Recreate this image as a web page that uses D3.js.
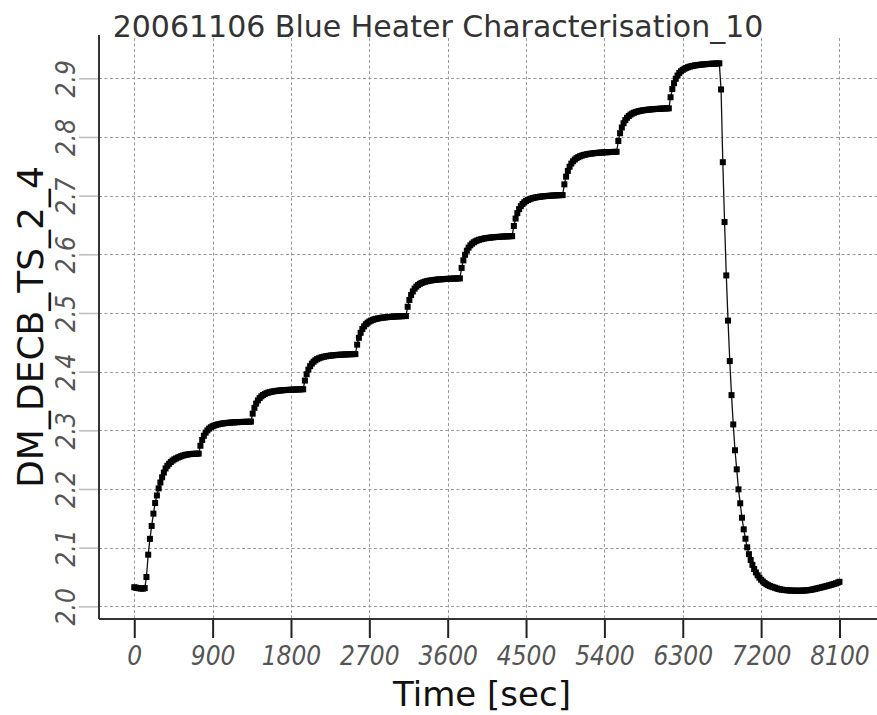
<!DOCTYPE html>
<html>
<head>
<meta charset="utf-8">
<script src="https://cdn.jsdelivr.net/npm/d3@7"></script>
<style>
  html, body { margin: 0; padding: 0; background: #fff; }
  svg { display: block; }
  .tick-label { font-family: "DejaVu Sans Condensed", "DejaVu Sans", sans-serif; font-stretch: condensed; font-style: italic; font-size: 26px; fill: #555; }
</style>
</head>
<body>
<div id="chart"></div>
<script>
const chartTitle = "20061106 Blue Heater Characterisation_10";
const xLabel = "Time [sec]";
const yLabel = "DM_DECB_TS_2_4";
const xTicks = [0, 900, 1800, 2700, 3600, 4500, 5400, 6300, 7200, 8100];
const yTicks = [2.0, 2.1, 2.2, 2.3, 2.4, 2.5, 2.6, 2.7, 2.8, 2.9];

// [time in s, sensor value]
const heaterSeries = [
  [0,2.0325],[20,2.0318],[40,2.0312],[60,2.0307],[80,2.0303],[100,2.0302],[120,2.0310],[140,2.0500],[160,2.0880],[180,2.1150],
  [200,2.1370],[220,2.1580],[240,2.1760],[260,2.1890],[280,2.2010],[300,2.2110],[320,2.2200],[340,2.2280],[360,2.2350],[380,2.2395],
  [400,2.2430],[420,2.2460],[440,2.2485],[460,2.2505],[480,2.2520],[500,2.2535],[520,2.2548],[540,2.2560],[560,2.2570],[580,2.2578],
  [600,2.2585],[620,2.2590],[640,2.2594],[660,2.2597],[680,2.2600],[700,2.2600],[720,2.2602],[740,2.2603],[760,2.2737],[780,2.2835],
  [800,2.2907],[820,2.2960],[840,2.2999],[860,2.3029],[880,2.3052],[900,2.3069],[920,2.3082],[940,2.3092],[960,2.3101],[980,2.3107],
  [1000,2.3113],[1020,2.3118],[1040,2.3122],[1060,2.3125],[1080,2.3128],[1100,2.3131],[1120,2.3133],[1140,2.3135],[1160,2.3137],[1180,2.3139],
  [1200,2.3140],[1220,2.3142],[1240,2.3143],[1260,2.3144],[1280,2.3145],[1300,2.3146],[1320,2.3147],[1340,2.3148],[1360,2.3284],[1380,2.3383],
  [1400,2.3456],[1420,2.3510],[1440,2.3550],[1460,2.3580],[1480,2.3602],[1500,2.3619],[1520,2.3633],[1540,2.3643],[1560,2.3652],[1580,2.3659],
  [1600,2.3664],[1620,2.3669],[1640,2.3673],[1660,2.3677],[1680,2.3680],[1700,2.3682],[1720,2.3685],[1740,2.3687],[1760,2.3689],[1780,2.3690],
  [1800,2.3692],[1820,2.3693],[1840,2.3695],[1860,2.3696],[1880,2.3697],[1900,2.3698],[1920,2.3699],[1940,2.3700],[1960,2.3848],[1980,2.3956],
  [2000,2.4035],[2020,2.4093],[2040,2.4137],[2060,2.4169],[2080,2.4194],[2100,2.4213],[2120,2.4227],[2140,2.4239],[2160,2.4248],[2180,2.4255],
  [2200,2.4261],[2220,2.4267],[2240,2.4271],[2260,2.4275],[2280,2.4278],[2300,2.4281],[2320,2.4283],[2340,2.4286],[2360,2.4288],[2380,2.4290],
  [2400,2.4291],[2420,2.4293],[2440,2.4294],[2460,2.4296],[2480,2.4297],[2500,2.4298],[2520,2.4299],[2540,2.4300],[2560,2.4460],[2580,2.4577],
  [2600,2.4662],[2620,2.4726],[2640,2.4772],[2660,2.4808],[2680,2.4834],[2700,2.4855],[2720,2.4870],[2740,2.4883],[2760,2.4893],[2780,2.4901],
  [2800,2.4907],[2820,2.4913],[2840,2.4918],[2860,2.4922],[2880,2.4925],[2900,2.4928],[2920,2.4931],[2940,2.4934],[2960,2.4936],[2980,2.4938],
  [3000,2.4940],[3020,2.4942],[3040,2.4943],[3060,2.4944],[3080,2.4946],[3100,2.4947],[3120,2.4948],[3140,2.5106],[3160,2.5222],[3180,2.5306],
  [3200,2.5368],[3220,2.5415],[3240,2.5450],[3260,2.5476],[3280,2.5496],[3300,2.5511],[3320,2.5524],[3340,2.5533],[3360,2.5541],[3380,2.5548],
  [3400,2.5553],[3420,2.5558],[3440,2.5562],[3460,2.5566],[3480,2.5569],[3500,2.5572],[3520,2.5574],[3540,2.5576],[3560,2.5578],[3580,2.5580],
  [3600,2.5582],[3620,2.5583],[3640,2.5585],[3660,2.5586],[3680,2.5587],[3700,2.5588],[3720,2.5589],[3740,2.5590],[3760,2.5768],[3780,2.5897],
  [3800,2.5992],[3820,2.6062],[3840,2.6114],[3860,2.6153],[3880,2.6182],[3900,2.6205],[3920,2.6222],[3940,2.6236],[3960,2.6247],[3980,2.6256],
  [4000,2.6263],[4020,2.6270],[4040,2.6275],[4060,2.6279],[4080,2.6283],[4100,2.6287],[4120,2.6290],[4140,2.6293],[4160,2.6295],[4180,2.6297],
  [4200,2.6299],[4220,2.6301],[4240,2.6303],[4260,2.6305],[4280,2.6306],[4300,2.6307],[4320,2.6309],[4340,2.6310],[4360,2.6483],[4380,2.6609],
  [4400,2.6702],[4420,2.6770],[4440,2.6820],[4460,2.6858],[4480,2.6887],[4500,2.6909],[4520,2.6926],[4540,2.6939],[4560,2.6950],[4580,2.6959],
  [4600,2.6966],[4620,2.6972],[4640,2.6977],[4660,2.6982],[4680,2.6985],[4700,2.6989],[4720,2.6992],[4740,2.6994],[4760,2.6997],[4780,2.6999],
  [4800,2.7001],[4820,2.7003],[4840,2.7005],[4860,2.7006],[4880,2.7008],[4900,2.7009],[4920,2.7010],[4940,2.7192],[4960,2.7324],[4980,2.7421],
  [5000,2.7493],[5020,2.7546],[5040,2.7586],[5060,2.7616],[5080,2.7639],[5100,2.7657],[5120,2.7671],[5140,2.7682],[5160,2.7692],[5180,2.7699],
  [5200,2.7705],[5220,2.7711],[5240,2.7715],[5260,2.7719],[5280,2.7723],[5300,2.7726],[5320,2.7729],[5340,2.7732],[5360,2.7734],[5380,2.7736],
  [5400,2.7738],[5420,2.7740],[5440,2.7741],[5460,2.7743],[5480,2.7744],[5500,2.7745],[5520,2.7746],[5540,2.7748],[5560,2.7931],[5580,2.8064],
  [5600,2.8161],[5620,2.8234],[5640,2.8287],[5660,2.8327],[5680,2.8357],[5700,2.8381],[5720,2.8399],[5740,2.8413],[5760,2.8424],[5780,2.8433],
  [5800,2.8441],[5820,2.8447],[5840,2.8453],[5860,2.8457],[5880,2.8461],[5900,2.8465],[5920,2.8468],[5940,2.8471],[5960,2.8473],[5980,2.8476],
  [6000,2.8478],[6020,2.8480],[6040,2.8482],[6060,2.8483],[6080,2.8485],[6100,2.8486],[6120,2.8487],[6140,2.8488],[6160,2.8677],[6180,2.8816],
  [6200,2.8917],[6220,2.8992],[6240,2.9047],[6260,2.9089],[6280,2.9120],[6300,2.9144],[6320,2.9163],[6340,2.9177],[6360,2.9189],[6380,2.9199],
  [6400,2.9207],[6420,2.9213],[6440,2.9219],[6460,2.9224],[6480,2.9228],[6500,2.9231],[6520,2.9235],[6540,2.9238],[6560,2.9240],[6580,2.9243],
  [6600,2.9245],[6620,2.9247],[6640,2.9249],[6660,2.9250],[6680,2.9252],[6700,2.9253],[6720,2.9255],[6740,2.8810],[6760,2.7570],[6780,2.6550],
  [6800,2.5640],[6820,2.4870],[6840,2.4180],[6860,2.3600],[6880,2.3100],[6900,2.2660],[6920,2.2335],[6940,2.1994],[6960,2.1756],[6980,2.1510],
  [7000,2.1312],[7020,2.1152],[7040,2.1006],[7060,2.0889],[7080,2.0790],[7100,2.0707],[7120,2.0636],[7140,2.0578],[7160,2.0529],[7180,2.0488],
  [7200,2.0453],[7220,2.0424],[7240,2.0399],[7260,2.0378],[7280,2.0361],[7300,2.0347],[7320,2.0335],[7340,2.0325],[7360,2.0316],[7380,2.0305],
  [7400,2.0295],[7420,2.0289],[7440,2.0283],[7460,2.0279],[7480,2.0276],[7500,2.0273],[7520,2.0271],[7540,2.0269],[7560,2.0268],[7580,2.0267],
  [7600,2.0266],[7620,2.0266],[7640,2.0266],[7660,2.0267],[7680,2.0268],[7700,2.0270],[7720,2.0272],[7740,2.0275],[7760,2.0279],[7780,2.0284],
  [7800,2.0290],[7820,2.0297],[7840,2.0304],[7860,2.0311],[7880,2.0318],[7900,2.0326],[7920,2.0333],[7940,2.0341],[7960,2.0349],[7980,2.0357],
  [8000,2.0365],[8020,2.0374],[8040,2.0383],[8060,2.0393],[8080,2.0405],[8100,2.0418]
];

const width = 877, height = 715;
const plot = { left: 99, right: 877, top: 35, bottom: 619 };

const svg = d3.select("#chart").append("svg")
  .attr("width", width)
  .attr("height", height);

const x = d3.scaleLinear().domain([-405, 8531]).range([plot.left, plot.right]);
const y = d3.scaleLinear().domain([1.9784, 2.9738]).range([plot.bottom, plot.top]);

// grid
const grid = svg.append("g").attr("class", "grid")
  .attr("stroke", "#999").attr("stroke-width", 1).attr("stroke-dasharray", "3,2.5");
grid.selectAll(".hgrid").data(yTicks).join("line")
  .attr("class", "hgrid")
  .attr("x1", plot.left).attr("x2", plot.right)
  .attr("y1", d => Math.round(y(d)) + 0.5).attr("y2", d => Math.round(y(d)) + 0.5);
grid.selectAll(".vgrid").data(xTicks).join("line")
  .attr("class", "vgrid")
  .attr("y1", plot.top + 3).attr("y2", plot.bottom)
  .attr("x1", d => Math.round(x(d)) + 0.5).attr("x2", d => Math.round(x(d)) + 0.5);

// series
const line = d3.line().x(d => x(d[0])).y(d => y(d[1]));
svg.append("path")
  .datum(heaterSeries)
  .attr("fill", "none")
  .attr("stroke", "#111")
  .attr("stroke-width", 1.3)
  .attr("d", line);

const markerSize = 6;
svg.append("g").selectAll("rect").data(heaterSeries).join("rect")
  .attr("x", d => x(d[0]) - markerSize / 2)
  .attr("y", d => y(d[1]) - markerSize / 2)
  .attr("width", markerSize)
  .attr("height", markerSize)
  .attr("fill", "#000");

// x axis
const xAxis = svg.append("g")
  .attr("transform", `translate(0,${plot.bottom})`)
  .call(d3.axisBottom(x).tickValues(xTicks).tickSize(19).tickPadding(9).tickFormat(d3.format("d")));
xAxis.select(".domain").remove();
xAxis.selectAll(".tick line").attr("stroke", "#222").attr("stroke-width", 2);
xAxis.selectAll(".tick text").attr("class", "tick-label").attr("fill", null);

// y axis
const yAxis = svg.append("g")
  .attr("transform", `translate(${plot.left},0)`)
  .call(d3.axisLeft(y).tickValues(yTicks).tickSize(20).tickFormat(d3.format(".1f")));
yAxis.select(".domain").remove();
yAxis.selectAll(".tick line").attr("stroke", "#bbb").attr("stroke-width", 1.5);
yAxis.selectAll(".tick text")
  .attr("class", "tick-label")
  .attr("fill", null)
  .attr("x", null).attr("dy", null)
  .attr("text-anchor", "middle")
  .attr("transform", "translate(-24,0) rotate(-90)");

svg.append("line")
  .attr("x1", plot.left).attr("x2", plot.right)
  .attr("y1", plot.bottom).attr("y2", plot.bottom)
  .attr("stroke", "#333").attr("stroke-width", 2);
svg.append("line")
  .attr("x1", plot.left).attr("x2", plot.left)
  .attr("y1", plot.top).attr("y2", plot.bottom)
  .attr("stroke", "#333").attr("stroke-width", 2);

// titles
svg.append("text")
  .attr("x", 438).attr("y", 37)
  .attr("text-anchor", "middle")
  .style("font-family", "DejaVu Sans, sans-serif")
  .style("font-size", "30px")
  .attr("fill", "#333")
  .text(chartTitle);

svg.append("text")
  .attr("x", 482).attr("y", 706)
  .attr("text-anchor", "middle")
  .style("font-family", "DejaVu Sans, sans-serif")
  .style("font-size", "34px")
  .attr("fill", "#111")
  .text(xLabel);

svg.append("text")
  .attr("transform", `translate(43,${(plot.top + plot.bottom) / 2}) rotate(-90)`)
  .attr("text-anchor", "middle")
  .style("font-family", "DejaVu Sans, sans-serif")
  .style("font-size", "36px")
  .attr("fill", "#111")
  .text(yLabel);
</script>
</body>
</html>
